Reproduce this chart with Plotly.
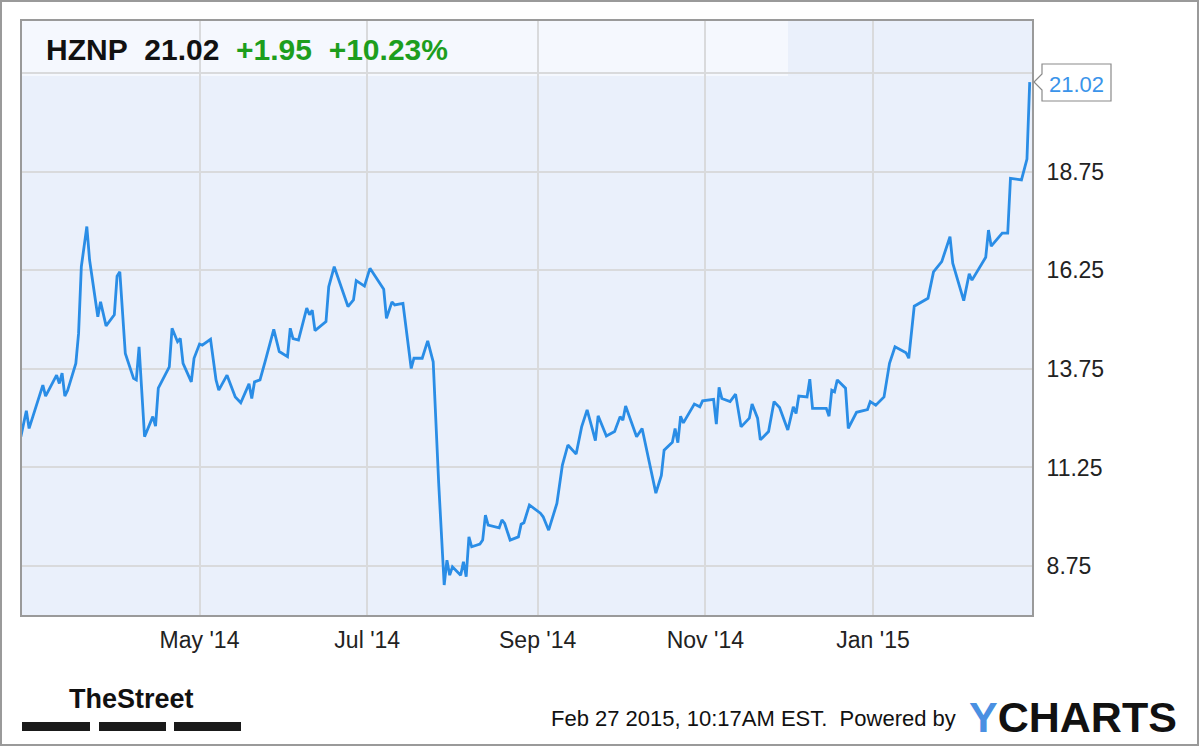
import plotly.graph_objects as go

# ==========================================================
# DATA  (HZNP daily closes)
# ==========================================================

dates = [
    "2014-02-25", "2014-02-27", "2014-02-28", "2014-03-03", "2014-03-05",
    "2014-03-06", "2014-03-10", "2014-03-11", "2014-03-12", "2014-03-13",
    "2014-03-14", "2014-03-17", "2014-03-18", "2014-03-19", "2014-03-21",
    "2014-03-22", "2014-03-25", "2014-03-26", "2014-03-28", "2014-03-31",
    "2014-04-01", "2014-04-02", "2014-04-04", "2014-04-07", "2014-04-08",
    "2014-04-09", "2014-04-11", "2014-04-14", "2014-04-15", "2014-04-16",
    "2014-04-20", "2014-04-21", "2014-04-23", "2014-04-24", "2014-04-25",
    "2014-04-28", "2014-04-29", "2014-05-01", "2014-05-02", "2014-05-05",
    "2014-05-07", "2014-05-08", "2014-05-11", "2014-05-14", "2014-05-16",
    "2014-05-19", "2014-05-20", "2014-05-21", "2014-05-23", "2014-05-25",
    "2014-05-28", "2014-05-30", "2014-06-02", "2014-06-03", "2014-06-04",
    "2014-06-06", "2014-06-09", "2014-06-10", "2014-06-11", "2014-06-12",
    "2014-06-16", "2014-06-17", "2014-06-19", "2014-06-24", "2014-06-26",
    "2014-06-27", "2014-06-30", "2014-07-02", "2014-07-07", "2014-07-08",
    "2014-07-10", "2014-07-11", "2014-07-14", "2014-07-17", "2014-07-18",
    "2014-07-21", "2014-07-23", "2014-07-25", "2014-07-27", "2014-07-29",
    "2014-07-30", "2014-07-31", "2014-08-01", "2014-08-04", "2014-08-05",
    "2014-08-06", "2014-08-07", "2014-08-08", "2014-08-11", "2014-08-12",
    "2014-08-13", "2014-08-14", "2014-08-18", "2014-08-19", "2014-08-20",
    "2014-08-22", "2014-08-25", "2014-08-26", "2014-08-27", "2014-08-29",
    "2014-09-02", "2014-09-03", "2014-09-05", "2014-09-08", "2014-09-10",
    "2014-09-12", "2014-09-15", "2014-09-17", "2014-09-19", "2014-09-21",
    "2014-09-22", "2014-09-23", "2014-09-26", "2014-09-29", "2014-10-01",
    "2014-10-02", "2014-10-03", "2014-10-07", "2014-10-09", "2014-10-14",
    "2014-10-16", "2014-10-17", "2014-10-20", "2014-10-21", "2014-10-22",
    "2014-10-23", "2014-10-24", "2014-10-28", "2014-10-30", "2014-10-31",
    "2014-11-04", "2014-11-05", "2014-11-06", "2014-11-07", "2014-11-10",
    "2014-11-12", "2014-11-14", "2014-11-17", "2014-11-18", "2014-11-20",
    "2014-11-21", "2014-11-24", "2014-11-26", "2014-11-28", "2014-12-01",
    "2014-12-03", "2014-12-04", "2014-12-05", "2014-12-08", "2014-12-09",
    "2014-12-10", "2014-12-15", "2014-12-16", "2014-12-17", "2014-12-18",
    "2014-12-19", "2014-12-22", "2014-12-23", "2014-12-26", "2014-12-30",
    "2014-12-31", "2015-01-02", "2015-01-05", "2015-01-07", "2015-01-09",
    "2015-01-13", "2015-01-14", "2015-01-16", "2015-01-21", "2015-01-23",
    "2015-01-26", "2015-01-29", "2015-01-30", "2015-02-03", "2015-02-05",
    "2015-02-06", "2015-02-11", "2015-02-12", "2015-02-13", "2015-02-17",
    "2015-02-19", "2015-02-20", "2015-02-24", "2015-02-26", "2015-02-27",
]

prices = [
    12.03, 12.69, 12.24, 12.88, 13.34,
    13.06, 13.59, 13.38, 13.64, 13.06,
    13.20, 13.89, 14.65, 16.34, 17.36,
    16.51, 15.07, 15.45, 14.84, 15.12,
    16.10, 16.21, 14.14, 13.51, 13.47,
    14.31, 12.03, 12.54, 12.30, 13.26,
    13.80, 14.78, 14.44, 14.52, 13.89,
    13.42, 14.02, 14.38, 14.35, 14.50,
    13.47, 13.21, 13.59, 13.04, 12.89,
    13.37, 13.00, 13.42, 13.47, 13.97,
    14.75, 14.19, 14.06, 14.78, 14.52,
    14.48, 15.29, 15.12, 15.24, 14.72,
    14.95, 15.83, 16.34, 15.33, 15.50,
    15.99, 15.85, 16.30, 15.77, 15.03,
    15.45, 15.37, 15.41, 13.76, 14.02,
    14.02, 14.46, 13.93, 10.85, 8.27,
    8.90, 8.52, 8.73, 8.52, 8.86,
    8.48, 9.49, 9.24, 9.31, 9.41,
    10.04, 9.79, 9.72, 9.92, 9.83,
    9.41, 9.49, 9.81, 9.85, 10.30,
    10.09, 10.00, 9.66, 10.34, 11.31,
    11.82, 11.59, 12.28, 12.71, 12.20,
    11.93, 12.56, 12.05, 12.16, 12.54,
    12.45, 12.81, 12.03, 12.24, 10.60,
    11.05, 11.69, 11.89, 12.24, 11.88,
    12.55, 12.38, 12.86, 12.79, 12.94,
    12.98, 12.35, 13.28, 13.00, 12.92,
    13.11, 12.28, 12.50, 12.86, 12.50,
    11.95, 12.16, 12.92, 12.77, 12.20,
    12.79, 12.62, 13.06, 13.04, 13.49,
    12.75, 12.75, 12.55, 13.21, 13.17,
    13.47, 13.26, 12.24, 12.65, 12.72,
    12.92, 12.83, 13.04, 13.89, 14.31,
    14.16, 14.02, 15.34, 15.54, 16.21,
    16.47, 17.10, 16.43, 15.48, 16.16,
    16.00, 16.58, 17.27, 16.86, 17.19,
    17.19, 18.58, 18.54, 19.07, 21.02,
]

x_tick_vals = ["2014-05-01", "2014-07-01", "2014-09-01", "2014-11-01", "2015-01-01"]
x_tick_text = ["May '14", "Jul '14", "Sep '14", "Nov '14", "Jan '15"]

y_tick_vals = [8.75, 11.25, 13.75, 16.25, 18.75, 21.25]
y_tick_text = ["8.75", "11.25", "13.75", "16.25", "18.75", ""]

ticker = "HZNP"
last_price = 21.02
change = 1.95
change_pct = 10.23
timestamp = "Feb 27 2015, 10:17AM EST."


# ==========================================================
# STYLE
# ==========================================================

LINE = "#2a8de6"
PLOT_BG = "#eaf0fb"
HEADER_BG = "#f5f8fe"
GRID = "#d9dadc"
FRAME = "#9a9a9a"
GREEN = "#1d9e1d"
FONT = "Liberation Sans, Arial, sans-serif"

W, H = 1200, 747
L, R, T, B = 22, 1032, 21, 615


def px(x):
    return (x - L) / (R - L)


def py(y):
    return (B - y) / (B - T)


# ==========================================================
# FIGURE
# ==========================================================

fig = go.Figure()

fig.add_trace(
    go.Scatter(
        x=dates,
        y=prices,
        mode="lines",
        line=dict(color=LINE, width=2.8),
        hoverinfo="x+y",
    )
)

shapes = [
    # header band
    dict(type="rect", xref="paper", yref="paper",
         x0=0, x1=px(788), y0=py(76), y1=1,
         fillcolor=HEADER_BG, line=dict(width=0), layer="below"),
    # outer frame
    dict(type="rect", xref="paper", yref="paper",
         x0=px(1), x1=px(1198), y0=py(745), y1=py(1),
         line=dict(color=FRAME, width=2)),
    # last price callout
    dict(type="path", xref="paper", yref="paper",
         path=(f"M {px(1042)},{py(64)} L {px(1111)},{py(64)} "
               f"L {px(1111)},{py(101)} L {px(1042)},{py(101)} "
               f"L {px(1042)},{py(90)} L {px(1034)},{py(82)} "
               f"L {px(1042)},{py(74)} Z"),
         fillcolor="white", line=dict(color="#8a8a8a", width=1.2)),
]

# TheStreet bars
for x0, x1 in [(22, 90), (99, 166), (174, 241)]:
    shapes.append(
        dict(type="rect", xref="paper", yref="paper",
             x0=px(x0), x1=px(x1), y0=py(731), y1=py(722),
             fillcolor="#1a1a1a", line=dict(width=0))
    )

annotations = [
    dict(
        text=(f"<b>{ticker}&nbsp;&nbsp;{last_price:.2f}&nbsp;&nbsp;"
              f"<span style='color:{GREEN}'>+{change:.2f}&nbsp;&nbsp;"
              f"+{change_pct:.2f}%</span></b>"),
        xref="paper", yref="paper", x=px(44), y=py(49),
        xanchor="left", yanchor="middle", showarrow=False,
        font=dict(size=30, color="#111111", family=FONT),
    ),
    dict(
        text=f"{last_price:.2f}",
        xref="paper", yref="paper", x=px(1076), y=py(84),
        xanchor="center", yanchor="middle", showarrow=False,
        font=dict(size=22, color="#3a94ea", family=FONT),
    ),
    dict(
        text="<b>TheStreet</b>",
        xref="paper", yref="paper", x=px(131), y=py(699),
        xanchor="center", yanchor="middle", showarrow=False,
        font=dict(size=27, color="#111111", family=FONT),
    ),
    dict(
        text=f"{timestamp}&nbsp;&nbsp;Powered by",
        xref="paper", yref="paper", x=px(958), y=py(718),
        xanchor="right", yanchor="middle", showarrow=False,
        font=dict(size=22, color="#111111", family=FONT),
    ),
    dict(
        text="<b><span style='color:#4a90e2'>Y</span>CHARTS</b>",
        xref="paper", yref="paper", x=px(967), y=py(717),
        xanchor="left", yanchor="middle", showarrow=False,
        font=dict(size=43, color="#111111", family=FONT),
    ),
]

fig.update_layout(
    width=W,
    height=H,
    margin=dict(l=L, r=W - R, t=T, b=H - B),
    paper_bgcolor="white",
    plot_bgcolor=PLOT_BG,
    showlegend=False,
    font=dict(family=FONT, size=23, color="#222222"),
    shapes=shapes,
    annotations=annotations,
    xaxis=dict(
        range=["2014-02-25 10:00", "2015-02-27 20:00"],
        tickvals=x_tick_vals,
        ticktext=x_tick_text,
        showgrid=True,
        gridcolor=GRID,
        gridwidth=2,
        zeroline=False,
        showline=True,
        linecolor=FRAME,
        linewidth=2,
        mirror=True,
        ticks="",
        ticklabelstandoff=3,
        tickfont=dict(size=23, color="#222222"),
    ),
    yaxis=dict(
        side="right",
        range=[7.51, 22.57],
        tickvals=y_tick_vals,
        ticktext=y_tick_text,
        showgrid=True,
        gridcolor=GRID,
        gridwidth=2,
        zeroline=False,
        showline=True,
        linecolor=FRAME,
        linewidth=2,
        mirror=True,
        ticks="",
        ticklabelstandoff=8,
        tickfont=dict(size=23, color="#222222"),
    ),
)

# drop the page's default body margin so the figure sits at the top-left corner
fig.write_html(
    "out.html",
    config={"displayModeBar": False},
    post_script="document.body.style.margin = '0'; document.body.style.overflow = 'hidden';",
)
